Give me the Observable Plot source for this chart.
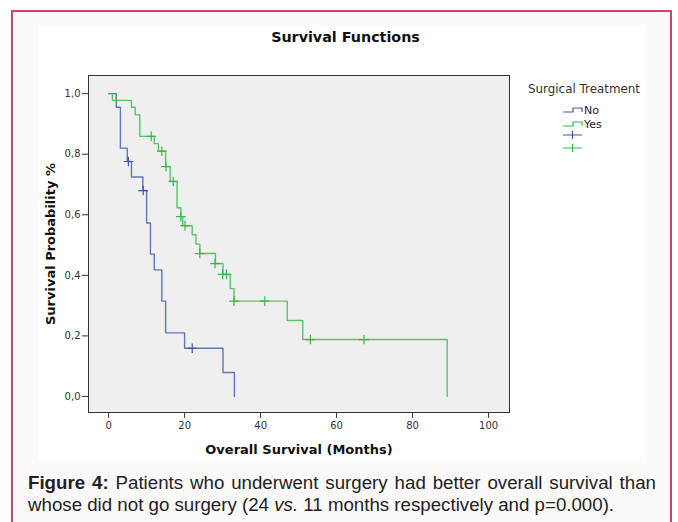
<!DOCTYPE html>
<html><head><meta charset="utf-8">
<script src="https://cdn.jsdelivr.net/npm/d3@7"></script>
<script src="https://cdn.jsdelivr.net/npm/@observablehq/plot@0.6"></script>
<style>
body{margin:0;background:#fff;font-family:Arial,"Liberation Sans",sans-serif;}
#page{position:relative;width:678px;height:522px;overflow:hidden;}
#border{position:absolute;left:11px;top:10px;width:657px;height:540px;border:2px solid #c4476f;background:#fcf9fa;}
#panel{position:absolute;left:39px;top:26px;width:606px;height:434px;background:#fff;}
#title{position:absolute;left:39px;top:29px;width:613px;text-align:center;font-family:"DejaVu Sans",sans-serif;font-weight:bold;font-size:14.3px;color:#111;}
#chart{position:absolute;left:39px;top:26px;}
#legend{position:absolute;left:520px;top:80px;}
#caption{position:absolute;left:28px;top:472px;width:628px;font-size:18.7px;line-height:22px;text-align:justify;color:#222;}
#chart svg [aria-label="x-axis label"], #chart svg [aria-label="y-axis label"]{font-family:"DejaVu Sans",sans-serif;font-weight:bold;font-size:13px;fill:#111;}
</style>
</head><body>
<div id="page">
  <div id="border"></div>
  <div id="panel"></div>
  <div id="chart"></div>
  <div id="title">Survival Functions</div>
  <div id="legend"></div>
  <div id="caption"><b>Figure 4:</b> Patients who underwent surgery had better overall survival than whose did not go surgery (24 <i>vs.</i> 11 months respectively and p=0.000).</div>
</div>
<script>
// Data
const groups = ["No", "Yes"];
const groupColors = ["#3e58ac", "#34b94a"];

const noTime = [0, 2.0, 3.1, 4.9, 6.0, 9.0, 10.0, 11.0, 12.0, 14.0, 15.0, 20.0, 30.1, 33.1];
const noSurv = [1.0, 0.955, 0.82, 0.776, 0.725, 0.68, 0.573, 0.47, 0.418, 0.315, 0.21, 0.159, 0.079, 0.0];
const noCensTime = [5.2, 9.1, 22.0];
const noCensSurv = [0.776, 0.68, 0.159];

const yesTime = [0, 1.0, 6.0, 7.0, 8.2, 12.0, 13.1, 15.0, 16.2, 18.0, 19.0, 19.5, 22.0, 23.0, 24.0, 28.1, 30.1, 32.0, 33.0, 47.0, 51.1, 89.1];
const yesSurv = [1.0, 0.978, 0.955, 0.93, 0.859, 0.835, 0.81, 0.759, 0.71, 0.623, 0.594, 0.564, 0.534, 0.503, 0.472, 0.439, 0.403, 0.356, 0.315, 0.251, 0.188, 0.0];
const yesCensTime = [11.2, 14.0, 15.1, 17.0, 19.0, 20.1, 24.0, 28.0, 30.0, 31.0, 33.0, 41.1, 53.1, 67.2];
const yesCensSurv = [0.859, 0.81, 0.759, 0.71, 0.594, 0.564, 0.472, 0.439, 0.403, 0.403, 0.315, 0.315, 0.188, 0.188];

const xTicks = [0, 20, 40, 60, 80, 100];
const yTicks = [0, 0.2, 0.4, 0.6, 0.8, 1.0];

const toRows = (ts, ss, g) => ts.map((t, i) => ({t, s: ss[i], g}));
const steps = [...toRows(noTime, noSurv, "No"), ...toRows(yesTime, yesSurv, "Yes")];
const cens = [...toRows(noCensTime, noCensSurv, "No"), ...toRows(yesCensTime, yesCensSurv, "Yes")];

const colorScale = {domain: groups, range: groupColors};

const chart = Plot.plot({
  width: 606, height: 434,
  marginLeft: 49, marginTop: 49, marginRight: 136, marginBottom: 48,
  x: {domain: [-5.3, 105.5]},
  y: {domain: [-0.053, 1.06]},
  color: colorScale,
  style: {fontFamily: "'DejaVu Sans', sans-serif", fontSize: "10px", color: "#333", background: "transparent"},
  marks: [
    Plot.frame({fill: "#efefef", stroke: null}),
    Plot.axisX({ticks: xTicks, tickSize: 6, tickPadding: 3, label: "Overall Survival (Months)", labelAnchor: "center", labelOffset: 41, labelArrow: false, stroke: "#333"}),
    Plot.axisY({ticks: yTicks, tickSize: 6, tickPadding: 2, tickFormat: d => d.toFixed(1).replace(".", ","), label: "Survival Probability %", labelAnchor: "center", labelOffset: 43, labelArrow: false, stroke: "#333"}),
    Plot.line(steps, {x: "t", y: "s", z: "g", stroke: "g", curve: "step-after", strokeWidth: 1.4, strokeOpacity: 0.8}),
    Plot.dot(cens, {x: "t", y: "s", stroke: "g", symbol: "plus", r: 3.2, strokeWidth: 1.2}),
    Plot.frame({stroke: "#333", strokeWidth: 1})
  ]
});
document.getElementById("chart").appendChild(chart);

// Legend
const lg = d3.select("#legend").append("svg").attr("width", 150).attr("height", 80)
  .style("font-family", "'DejaVu Sans', sans-serif");
lg.append("text").attr("x", 8).attr("y", 13).attr("font-size", 11.9).attr("fill", "#333").text("Surgical Treatment");
groups.forEach((g, i) => {
  const y = 29 + i * 14;
  lg.append("path").attr("d", `M43,${y + 3}H53V${y - 1}H62V${y + 3}`).attr("fill", "none").attr("stroke", groupColors[i]).attr("stroke-width", 1.2);
  lg.append("text").attr("x", 64).attr("y", y + 5).attr("font-size", 11).attr("fill", "#222").text(g);
});
groups.forEach((g, i) => {
  const y = 55 + i * 13;
  lg.append("path").attr("d", `M43,${y}H62M52.5,${y - 4}V${y + 4}`).attr("fill", "none").attr("stroke", groupColors[i]).attr("stroke-width", 1.2);
});
</script>
</body></html>
